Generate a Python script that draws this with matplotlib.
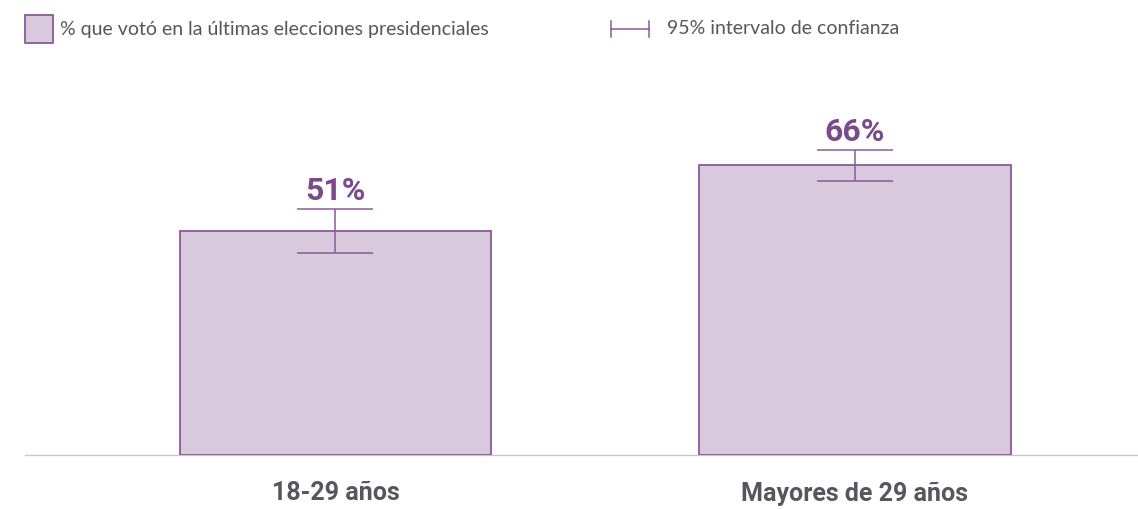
import matplotlib.pyplot as plt
from matplotlib.patches import Rectangle
from matplotlib.lines import Line2D

# Data
categories = ['18-29 años', 'Mayores de 29 años']
values = [51, 66]
err_low = [5, 3.5]
err_high = [5, 3.5]
value_labels = ['51%', '66%']
legend_bar = '% que votó en la últimas elecciones presidenciales'
legend_ci = '95% intervalo de confianza'

fill = '#d8c9dc'
edge = '#8a5a99'
label_col = '#7a4a8c'
grey = '#56565f'

W, H = 1138, 509
fig = plt.figure(figsize=(W / 100, H / 100), dpi=100)
ax = fig.add_axes([25 / W, 54 / H, 1 - 25 / W, 1 - 54 / H])

x = list(range(len(categories)))
ax.bar(x, values, width=0.599, color=fill, edgecolor=edge, linewidth=1.3, zorder=3)
ax.errorbar(x, values, yerr=[err_low, err_high], fmt='none', ecolor=edge,
            elinewidth=1.1, capsize=27.7, capthick=1.1, zorder=4)

for xi, v, eh, lab in zip(x, values, err_high, value_labels):
    ax.annotate(lab, (xi, v + eh), xytext=(0, 2), textcoords='offset points',
                ha='center', va='bottom', fontsize=23, fontweight='bold',
                color=label_col, family='Roboto')

ax.set_xlim(-0.5977, 1.5448)
ax.set_ylim(0, 103.6)
ax.set_yticks([])
ax.set_xticks(x)
ax.set_xticklabels(categories, fontsize=18, fontweight='bold', color=grey, family='Roboto')
ax.tick_params(axis='x', length=0, pad=19)
for s in ['top', 'right', 'left']:
    ax.spines[s].set_visible(False)
ax.spines['bottom'].set_color('#c8c8c8')
ax.spines['bottom'].set_linewidth(1.0)

# Legend drawn by hand
fig.patches.append(Rectangle((25 / W, 1 - 43 / H), 28 / W, 28 / H, transform=fig.transFigure,
                             facecolor=fill, edgecolor=edge, linewidth=1.3))
fig.text(60 / W, 1 - 29 / H, legend_bar, fontsize=14, color=grey, family='Lato', va='center')
y_ci = 1 - 29 / H
fig.lines.append(Line2D([611 / W, 649 / W], [y_ci, y_ci], transform=fig.transFigure, color=edge, lw=1.1))
for xx in (611, 649):
    fig.lines.append(Line2D([xx / W, xx / W], [y_ci - 8 / H, y_ci + 8 / H],
                            transform=fig.transFigure, color=edge, lw=1.1))
fig.text(667 / W, y_ci, legend_ci, fontsize=14, color=grey, family='Lato', va='center')

fig.savefig('out.png', dpi=100)
